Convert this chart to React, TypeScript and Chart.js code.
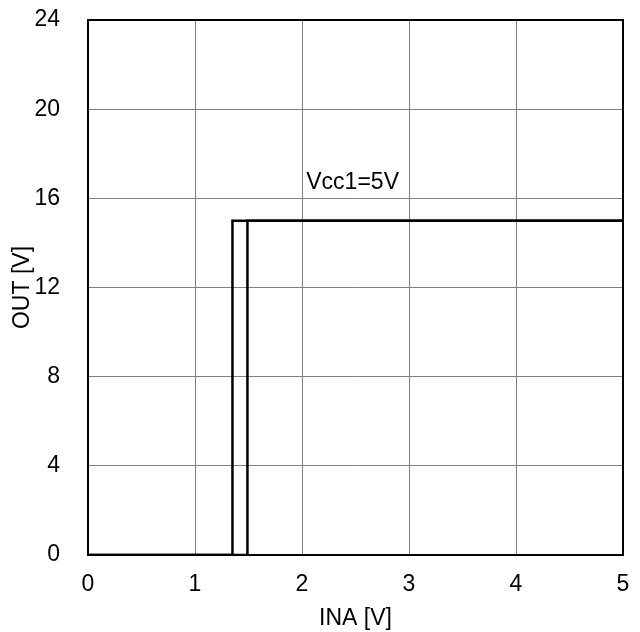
import React, { useEffect, useRef } from "react";
import { Chart, registerables } from "chart.js";

Chart.register(...registerables);

const xTicks = [0, 1, 2, 3, 4, 5];
const yTicks = [0, 4, 8, 12, 16, 20, 24];
const risingX = [0, 1.49, 1.49, 5];
const risingY = [0, 0, 15, 15];
const fallingX = [0, 1.35, 1.35, 5];
const fallingY = [0, 0, 15, 15];
const noteText = "Vcc1=5V";
const noteX = 2.04;
const noteY = 16.7;
const xTitle = "INA [V]";
const yTitle = "OUT [V]";

const FONT = "'Liberation Sans', Arial, sans-serif";
const FS = 23;

const boxPlugin = {
  id: "boxAndNote",
  afterDatasetsDraw(chart: any) {
    const { ctx, chartArea, scales } = chart;
    ctx.save();
    ctx.strokeStyle = "#000";
    ctx.lineWidth = 2;
    ctx.strokeRect(chartArea.left, chartArea.top, chartArea.right - chartArea.left, chartArea.bottom - chartArea.top);
    ctx.fillStyle = "#000";
    ctx.font = `${FS}px ${FONT}`;
    ctx.textAlign = "left";
    ctx.textBaseline = "middle";
    ctx.fillText(noteText, scales.x.getPixelForValue(noteX), scales.y.getPixelForValue(noteY));
    ctx.restore();
  },
};

export default function App() {
  const ref = useRef<HTMLCanvasElement>(null);
  useEffect(() => {
    if (!ref.current) return;
    const mk = (xs: number[], ys: number[]) => xs.map((x, i) => ({ x, y: ys[i] }));
    const chart = new Chart(ref.current, {
      type: "line",
      data: {
        datasets: [
          { data: mk(risingX, risingY), borderColor: "#000", borderWidth: 2.5, pointRadius: 0, tension: 0, fill: false },
          { data: mk(fallingX, fallingY), borderColor: "#000", borderWidth: 2.5, pointRadius: 0, tension: 0, fill: false },
        ],
      },
      options: {
        animation: false,
        responsive: false,
        events: [],
        layout: { padding: { top: 20, right: 17, left: 0, bottom: 0 } },
        plugins: { legend: { display: false }, tooltip: { enabled: false } },
        scales: {
          x: {
            type: "linear",
            min: 0,
            max: 5,
            afterFit: (s: any) => { s.height = 77; s.paddingLeft = 0; s.paddingRight = 0; },
            afterBuildTicks: (s: any) => { s.ticks = xTicks.map((v) => ({ value: v })); },
            ticks: { color: "#000", font: { size: FS, family: FONT }, padding: 16 },
            grid: { color: "#808080", lineWidth: 1, drawTicks: false },
            border: { display: false },
            title: { display: true, text: xTitle, color: "#000", font: { size: FS, family: FONT }, padding: { top: 0, bottom: 0 } },
          },
          y: {
            type: "linear",
            min: 0,
            max: 24,
            afterFit: (s: any) => { s.width = 88; s.paddingTop = 0; s.paddingBottom = 0; },
            afterBuildTicks: (s: any) => { s.ticks = yTicks.map((v) => ({ value: v })); },
            ticks: { color: "#000", font: { size: FS, family: FONT }, padding: 28 },
            grid: { color: "#808080", lineWidth: 1, drawTicks: false },
            border: { display: false },
            title: { display: true, text: yTitle, color: "#000", font: { size: FS, family: FONT }, padding: { top: 9, bottom: 0 } },
          },
        },
      },
      plugins: [boxPlugin],
    });
    return () => chart.destroy();
  }, []);
  return (
    <div style={{ position: "fixed", left: 0, top: 0, width: 640, height: 632, background: "#fff" }}>
      <canvas ref={ref} width={640} height={632} style={{ display: "block" }} />
    </div>
  );
}
